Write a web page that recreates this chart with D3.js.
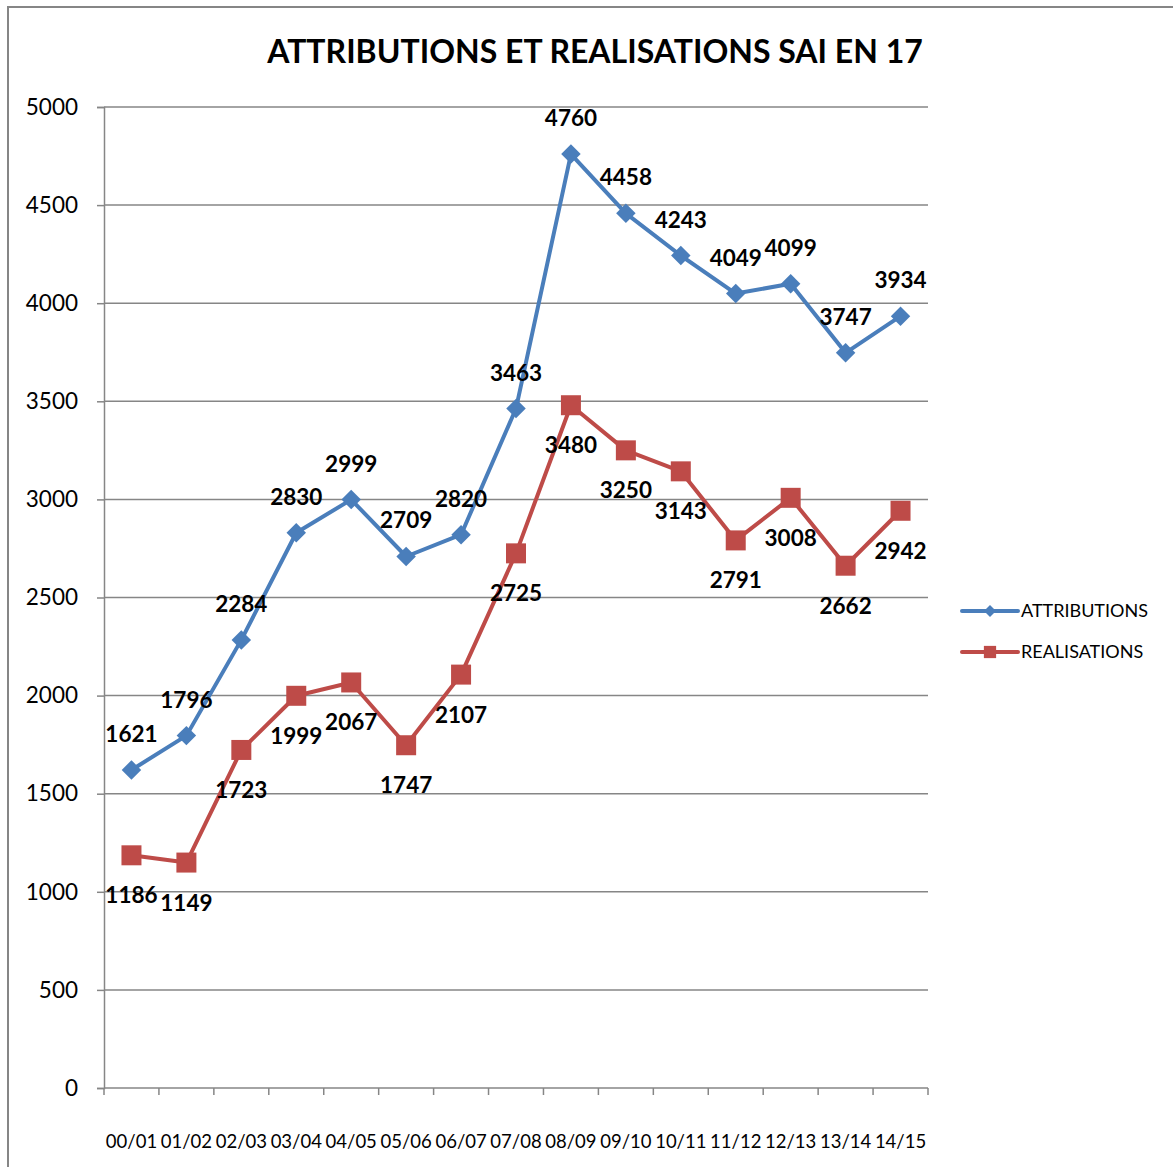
<!DOCTYPE html>
<html>
<head>
<meta charset="utf-8">
<script src="https://cdn.jsdelivr.net/npm/d3@7/dist/d3.min.js"></script>
<style>
  html, body { margin: 0; padding: 0; background: #fff; }
  svg { display: block; }
  text { font-family: Lato, "Open Sans", sans-serif; fill: #000; }
</style>
</head>
<body>
<svg id="chart" width="1173" height="1167"></svg>
<script>
const categories = ["00/01","01/02","02/03","03/04","04/05","05/06","06/07","07/08","08/09","09/10","10/11","11/12","12/13","13/14","14/15"];
const attributions = [1621,1796,2284,2830,2999,2709,2820,3463,4760,4458,4243,4049,4099,3747,3934];
const realisations = [1186,1149,1723,1999,2067,1747,2107,2725,3480,3250,3143,2791,3008,2662,2942];
const yTicks = [0,500,1000,1500,2000,2500,3000,3500,4000,4500,5000];
const seriesNames = ["ATTRIBUTIONS","REALISATIONS"];
const titleText = "ATTRIBUTIONS ET REALISATIONS SAI EN 17";

const blue = "#4A7EBB", red = "#BE4B48", gridCol = "#868686";
const svg = d3.select("#chart");

// outer border (extends past right/bottom edges)
svg.append("rect").attr("x", 8).attr("y", 7).attr("width", 1200).attr("height", 1200)
  .attr("fill", "none").attr("stroke", gridCol).attr("stroke-width", 2);

const L = 104, R = 928, T = 107, B = 1088;
const x = d3.scaleBand().domain(categories).range([L, R]);
const y = d3.scaleLinear().domain([0, 5000]).range([B, T]);

// gridlines
svg.append("g").selectAll("line").data(yTicks.filter(d => d > 0)).join("line")
  .attr("x1", L).attr("x2", R).attr("y1", d => y(d)).attr("y2", d => y(d))
  .attr("stroke", gridCol).attr("stroke-width", 1.5);

// y axis
const yAxis = svg.append("g").attr("transform", `translate(${L},0)`)
  .call(d3.axisLeft(y).tickValues(yTicks).tickSize(7).tickPadding(19).tickFormat(d3.format("d")));
yAxis.select(".domain").attr("stroke", gridCol).attr("stroke-width", 1.5);
yAxis.selectAll(".tick line").attr("stroke", gridCol).attr("stroke-width", 1.5);
yAxis.selectAll(".tick text").attr("font-size", 22.5).attr("font-family", "Lato, sans-serif").attr("fill", "#000");

// x axis
const xAxis = svg.append("g").attr("transform", `translate(0,${B})`)
  .call(d3.axisBottom(x).tickSize(0).tickPadding(47));
xAxis.select(".domain").remove();
svg.append("line").attr("x1", L).attr("x2", R).attr("y1", B).attr("y2", B)
  .attr("stroke", gridCol).attr("stroke-width", 1.5);
const edges = categories.map(c => x(c)).concat([x(categories[categories.length-1]) + x.bandwidth()]);
svg.append("g").selectAll("line").data(edges).join("line")
  .attr("x1", d => d).attr("x2", d => d).attr("y1", B).attr("y2", B + 7)
  .attr("stroke", gridCol).attr("stroke-width", 1.5);
xAxis.selectAll(".tick text").attr("font-size", 18.5).attr("font-family", "Lato, sans-serif").attr("fill", "#000");

// title
const title = svg.append("text").attr("x", 595).attr("y", 63).attr("text-anchor", "middle")
  .attr("font-weight", "bold").attr("font-size", 30).text(titleText);
const tw = title.node().getComputedTextLength();
title.attr("font-size", 30 * 656 / tw);

const cx = c => x(c) + x.bandwidth() / 2;
const line = d3.line().x((d, i) => cx(categories[i])).y(d => y(d));

function drawSeries(vals, color, shape, above) {
  svg.append("path").datum(vals).attr("d", line).attr("fill", "none")
    .attr("stroke", color).attr("stroke-width", 4).attr("stroke-linejoin", "round");
  const sym = shape === "diamond"
    ? d3.symbol().type(d3.symbolSquare).size(190)
    : d3.symbol().type(d3.symbolSquare).size(400);
  svg.append("g").selectAll("path").data(vals).join("path")
    .attr("d", sym)
    .attr("transform", (d, i) => `translate(${cx(categories[i])},${y(d)})` + (shape === "diamond" ? " rotate(45)" : ""))
    .attr("fill", color);
  svg.append("g").selectAll("text").data(vals).join("text")
    .attr("x", (d, i) => cx(categories[i]))
    .attr("y", d => y(d) + (above ? -28 : 48))
    .attr("text-anchor", "middle").attr("font-weight", "bold").attr("font-size", 22.5)
    .text(d => d);
}
drawSeries(attributions, blue, "diamond", true);
drawSeries(realisations, red, "square", false);

// legend
const legend = [
  {name: seriesNames[0], color: blue, shape: "diamond", yy: 611},
  {name: seriesNames[1], color: red, shape: "square", yy: 652}
];
legend.forEach(l => {
  svg.append("line").attr("x1", 962).attr("x2", 1018).attr("y1", l.yy).attr("y2", l.yy)
    .attr("stroke", l.color).attr("stroke-width", 4).attr("stroke-linecap", "round");
  const s = l.shape === "diamond" ? d3.symbol().type(d3.symbolSquare).size(72) : d3.symbol().type(d3.symbolSquare).size(150);
  svg.append("path").attr("d", s)
    .attr("transform", `translate(990,${l.yy})` + (l.shape === "diamond" ? " rotate(45)" : ""))
    .attr("fill", l.color);
  svg.append("text").attr("x", 1021).attr("y", l.yy).attr("dy", "0.36em")
    .attr("font-size", 18).text(l.name);
});
</script>
</body>
</html>
